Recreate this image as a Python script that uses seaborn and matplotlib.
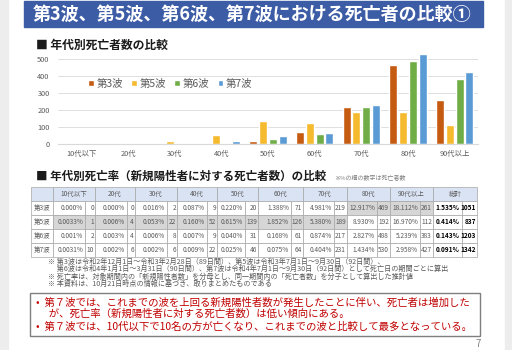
import numpy as np
import pandas as pd
import matplotlib
matplotlib.use("Agg")
import matplotlib.pyplot as plt
import seaborn as sns
from matplotlib.patches import Rectangle

# -------- data --------
ages = ["10代以下", "20代", "30代", "40代", "50代", "60代", "70代", "80代", "90代以上"]
waves = ["第3波", "第5波", "第6波", "第7波"]
wave_colors = ["#C55A11", "#F5BA2E", "#70AD47", "#5B9BD5"]

deaths_w3 = [0, 0, 2, 9, 20, 71, 219, 469, 261]
deaths_w5 = [1, 4, 22, 52, 139, 126, 189, 192, 112]
deaths_w6 = [2, 4, 8, 9, 31, 61, 217, 488, 383]
deaths_w7 = [10, 6, 6, 22, 46, 64, 231, 530, 427]

rate_w3 = ["0.000%", "0.000%", "0.016%", "0.087%", "0.220%", "1.388%", "4.981%", "12.917%", "18.112%"]
rate_w5 = ["0.0033%", "0.006%", "0.053%", "0.160%", "0.615%", "1.852%", "5.380%", "8.930%", "16.970%"]
rate_w6 = ["0.001%", "0.003%", "0.006%", "0.007%", "0.040%", "0.168%", "0.874%", "2.827%", "5.239%"]
rate_w7 = ["0.0031%", "0.002%", "0.002%", "0.009%", "0.025%", "0.075%", "0.404%", "1.434%", "2.958%"]

total_rate = ["1.535%", "0.414%", "0.143%", "0.091%"]
total_deaths = [1051, 837, 1203, 1342]

title = "第3波、第5波、第6波、第7波における死亡者の比較①"
notes = [
    "※ 第3波は令和2年12月1日～令和3年2月28日（89日間）、第5波は令和3年7月1日～9月30日（92日間）、",
    "　 第6波は令和4年1月1日～3月31日（90日間）、第7波は令和4年7月1日～9月30日（92日間）として死亡日の期間ごとに算出",
    "※ 死亡率は、対象期間内の「新規陽性者数」を分母とし、同一期間内の「死亡者数」を分子として算出した推計値",
    "※ 本資料は、10月21日時点の情報に基づき、取りまとめたものである",
]
summary = [
    "•  第７波では、これまでの波を上回る新規陽性者数が発生したことに伴い、死亡者は増加した",
    "　 が、死亡率（新規陽性者に対する死亡者数）は低い傾向にある。",
    "•  第７波では、10代以下で10名の方が亡くなり、これまでの波と比較して最多となっている。",
]

# -------- style --------
sns.set_style("white")
plt.rcParams["font.family"] = ["Noto Sans CJK JP", "DejaVu Sans"]
gray_txt = "#595959"

fig = plt.figure(figsize=(5.12, 3.5), dpi=100)

# background canvas in pixel coords
bg = fig.add_axes([0, 0, 1, 1])
bg.set_xlim(0, 512)
bg.set_ylim(350, 0)
bg.axis("off")
bg.add_patch(Rectangle((0, 0), 8, 350, color="#EDEDED"))
bg.add_patch(Rectangle((505, 0), 7, 350, color="#EDEDED"))
bg.add_patch(Rectangle((24, 1), 459, 26, color="#3C5DA6"))
bg.text(252, 14.5, title, color="white", fontsize=13, fontweight="bold", ha="center", va="center")

bg.text(36, 45, "■ 年代別死亡者数の比較", fontsize=8.5, fontweight="bold", va="center", color="#1A1A1A")
bg.text(36, 176, "■ 年代別死亡率（新規陽性者に対する死亡者数）の比較", fontsize=8.3,
        fontweight="bold", va="center", color="#1A1A1A")
bg.text(334, 177, "※%の横の数字は死亡者数", fontsize=4.3, va="center", color="#7F7F7F")

# -------- bar chart --------
df = pd.DataFrame({
    "年代": ages * 4,
    "死亡者数": deaths_w3 + deaths_w5 + deaths_w6 + deaths_w7,
    "波": np.repeat(waves, len(ages)),
})

ax = fig.add_axes([58 / 512, (350 - 144.3) / 350, 420 / 512, 91.8 / 350])
ax.set_facecolor("none")
sns.barplot(data=df, x="年代", y="死亡者数", hue="波", palette=wave_colors,
            width=0.84, gap=0.18, saturation=1, errorbar=None, ax=ax)
ax.set_xlim(-0.5, 8.5)
ax.set_ylim(0, 540)
ax.set_yticks(range(0, 501, 100))
ax.yaxis.grid(True, color="#D9D9D9", lw=0.6)
ax.set_axisbelow(True)
for s in ["left", "top", "right"]:
    ax.spines[s].set_visible(False)
ax.spines["bottom"].set_color("#D9D9D9")
ax.set_xlabel("")
ax.set_ylabel("")
ax.tick_params(axis="y", length=0, labelsize=5.3, labelcolor=gray_txt, pad=6)
ax.tick_params(axis="x", length=0, labelsize=5.3, labelcolor=gray_txt, pad=4)

handles, labels = ax.get_legend_handles_labels()
ax.get_legend().remove()
fig.legend(handles, labels, loc="center left", bbox_to_anchor=(88 / 512, 1 - 84 / 350),
           ncol=4, frameon=False, fontsize=7.5, handlelength=0.55, handleheight=0.55,
           handletextpad=0.25, columnspacing=0.8, labelcolor=gray_txt,
           borderaxespad=0, borderpad=0)

# -------- table --------
rates = [rate_w3, rate_w5, rate_w6, rate_w7]
counts = [deaths_w3, deaths_w5, deaths_w6, deaths_w7]
rate_num = np.array([[float(v.rstrip("%")) for v in r] for r in rates])
top_row = rate_num.argmax(axis=0)

x0, label_w = 31, 22
group_w = [42, 40, 42, 40, 41, 45, 44, 43, 43, 44]
count_w = [10, 8, 10, 10, 13, 12, 13, 13, 13, 15]
y_head, row_h = 187, 14
line_c = "#A6A6A6"
head_c = "#DAE3F3"
hi_c = "#D6D6D6"
tfs = 4.7

# header
bg.add_patch(Rectangle((x0, y_head), label_w, row_h, fc=head_c, ec=line_c, lw=0.5))
gx = x0 + label_w
group_x = []
for g, w in enumerate(group_w):
    group_x.append(gx)
    name = ages[g] if g < len(ages) else "総計"
    bg.add_patch(Rectangle((gx, y_head), w, row_h, fc=head_c, ec=line_c, lw=0.5))
    bg.text(gx + w / 2, y_head + row_h / 2, name, fontsize=tfs, ha="center", va="center", color=gray_txt)
    gx += w

# body
for r in range(len(waves)):
    y = y_head + row_h * (r + 1)
    bg.add_patch(Rectangle((x0, y), label_w, row_h, fc="white", ec=line_c, lw=0.5))
    bg.text(x0 + label_w / 2, y + row_h / 2, waves[r], fontsize=tfs, ha="center", va="center", color=gray_txt)
    for g, w in enumerate(group_w):
        gx = group_x[g]
        cw = count_w[g]
        rw = w - cw
        if g < len(ages):
            fc = hi_c if top_row[g] == r else "white"
            rtxt, ctxt = rates[r][g], str(counts[r][g])
            kw = dict(fontsize=tfs, color=gray_txt)
        else:
            fc = "white"
            rtxt, ctxt = total_rate[r], str(total_deaths[r])
            kw = dict(fontsize=tfs, color="black", fontweight="bold")
        bg.add_patch(Rectangle((gx, y), rw, row_h, fc=fc, ec=line_c, lw=0.5))
        bg.add_patch(Rectangle((gx + rw, y), cw, row_h, fc=fc, ec=line_c, lw=0.5))
        bg.text(gx + rw - 2, y + row_h / 2, rtxt, ha="right", va="center", **kw)
        bg.text(gx + w - 1, y + row_h / 2, ctxt, ha="right", va="center", **kw)

# -------- notes --------
for i, line in enumerate(notes):
    bg.text(48, 261.5 + 7.6 * i, line, fontsize=5.1, va="center", color=gray_txt)

bg.add_patch(Rectangle((30, 293), 450, 43, fc="white", ec="#7F7F7F", lw=1))
for line, yy in zip(summary, [303, 314, 326.5]):
    bg.text(36, yy, line, fontsize=7.5, va="center", color="#C00000")

bg.text(478, 344, "7", fontsize=7, ha="center", va="center", color="#7F7F7F")

fig.savefig("out.png", dpi=100)
